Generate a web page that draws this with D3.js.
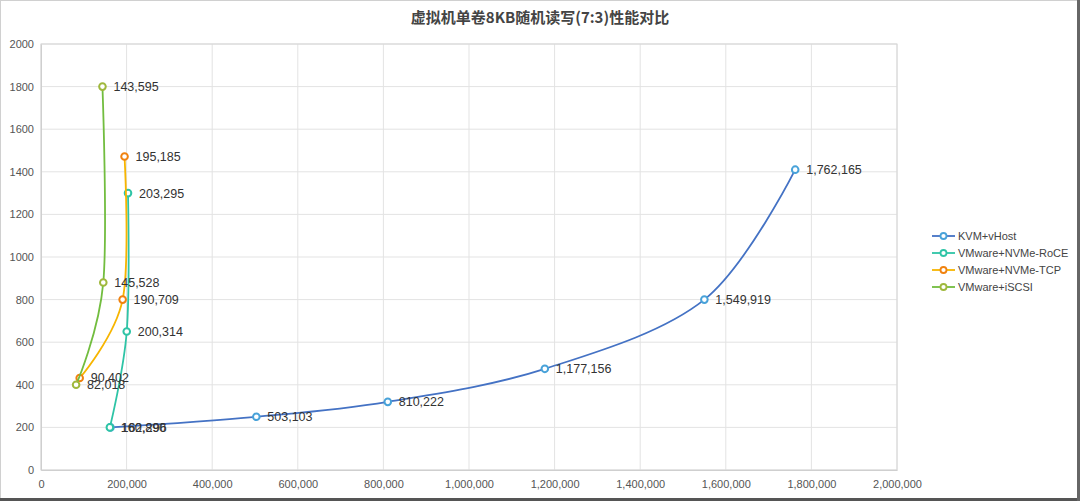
<!DOCTYPE html>
<html><head><meta charset="utf-8">
<script src="https://cdn.jsdelivr.net/npm/d3@7/dist/d3.min.js"></script>
<style>
html,body{margin:0;padding:0;background:#fff;}
svg{display:block;font-family:"Liberation Sans","Noto Sans CJK SC",sans-serif;}
</style></head>
<body><svg id="c" width="1080" height="501"></svg>
<script>
const title = "虚拟机单卷8KB随机读写(7:3)性能对比";
const seriesNames = ["KVM+vHost","VMware+NVMe-RoCE","VMware+NVMe-TCP","VMware+iSCSI"];
const kvmIops = [162296,503103,810222,1177156,1549919,1762165];
const kvmLat  = [200,250,320,475,800,1410];
const roceIops = [160890,200314,203295];
const roceLat  = [200,650,1300];
const tcpIops = [90402,190709,195185];
const tcpLat  = [432,800,1472];
const iscsiIops = [82018,145528,143595];
const iscsiLat  = [400,880,1800];
const xTicks = [0,200000,400000,600000,800000,1000000,1200000,1400000,1600000,1800000,2000000];
const yTicks = [0,200,400,600,800,1000,1200,1400,1600,1800,2000];
const lineColors = ["#4472c4","#2ec4a6","#f7b500","#72bd3f"];
const markColors = ["#48a2d9","#2ec4a6","#f0820f","#9fb83c"];

const seriesData = [[kvmIops,kvmLat],[roceIops,roceLat],[tcpIops,tcpLat],[iscsiIops,iscsiLat]]
  .map(([xs,ys],i)=>({name:seriesNames[i],pts:xs.map((x,j)=>({x,y:ys[j]}))}));

const svg = d3.select("#c");
const W=1080,H=501;
const L=41,R=897,T=44,B=470;
const x = d3.scaleLinear().domain([0,2000000]).range([L,R]);
const y = d3.scaleLinear().domain([0,2000]).range([B,T]);

// frame
svg.append("rect").attr("x",0.5).attr("y",0.5).attr("width",W-1).attr("height",H-1).attr("fill","#fff").attr("stroke","#d0d0d0");
svg.append("rect").attr("x",0).attr("y",H-3).attr("width",W).attr("height",3).attr("fill","#555");
svg.append("rect").attr("x",W-3).attr("y",0).attr("width",3).attr("height",H).attr("fill","#666");

// grid
svg.append("g").selectAll("line").data(xTicks).join("line")
  .attr("x1",d=>x(d)).attr("x2",d=>x(d)).attr("y1",T).attr("y2",B)
  .attr("stroke","#e3e3e3").attr("stroke-width",1);
svg.append("g").selectAll("line").data(yTicks).join("line")
  .attr("x1",L).attr("x2",R).attr("y1",d=>y(d)).attr("y2",d=>y(d))
  .attr("stroke","#e3e3e3").attr("stroke-width",1);
svg.append("rect").attr("x",L).attr("y",T).attr("width",R-L).attr("height",B-T)
  .attr("fill","none").attr("stroke","#d6d6d6");

// axes
const fmt = d3.format(",");
const xAxis = svg.append("g").attr("transform",`translate(0,${B})`)
  .call(d3.axisBottom(x).tickValues(xTicks).tickFormat(d=>fmt(d)).tickSize(0).tickPadding(10));
const yAxis = svg.append("g").attr("transform",`translate(${L},0)`)
  .call(d3.axisLeft(y).tickValues(yTicks).tickFormat(d=>d).tickSize(0).tickPadding(7));
[xAxis,yAxis].forEach(a=>{
  a.select(".domain").attr("stroke","#cfcfcf");
  a.selectAll("text").attr("fill","#555").attr("font-size","11px");
});

// title
svg.append("text").attr("x",540).attr("y",23).attr("text-anchor","middle")
  .attr("font-size","15px").attr("font-weight","bold").attr("fill","#444")
  .attr("font-family","'Noto Sans CJK SC',sans-serif").text(title);

const line = d3.line().x(d=>x(d.x)).y(d=>y(d.y)).curve(d3.curveCardinal.tension(0));

seriesData.forEach((s,i)=>{
  const g = svg.append("g");
  g.append("path").attr("d",line(s.pts)).attr("fill","none")
    .attr("stroke",lineColors[i]).attr("stroke-width",1.8);
  g.selectAll("circle").data(s.pts).join("circle")
    .attr("cx",d=>x(d.x)).attr("cy",d=>y(d.y)).attr("r",3.3)
    .attr("fill","#fff").attr("stroke",markColors[i]).attr("stroke-width",2);
  g.selectAll("text").data(s.pts).join("text")
    .attr("x",d=>x(d.x)+11).attr("y",d=>y(d.y)+4.5)
    .attr("font-size","12.5px").attr("fill","#333").text(d=>fmt(d.x));
});

// legend
const lg = svg.append("g");
seriesNames.forEach((n,i)=>{
  const yy = 236 + i*17;
  lg.append("line").attr("x1",932).attr("x2",955).attr("y1",yy).attr("y2",yy)
    .attr("stroke",lineColors[i]).attr("stroke-width",1.8);
  lg.append("circle").attr("cx",943.5).attr("cy",yy).attr("r",3)
    .attr("fill","#fff").attr("stroke",markColors[i]).attr("stroke-width",1.8);
  lg.append("text").attr("x",958).attr("y",yy+4).attr("font-size","11px")
    .attr("fill","#444").text(n);
});
</script></body></html>
